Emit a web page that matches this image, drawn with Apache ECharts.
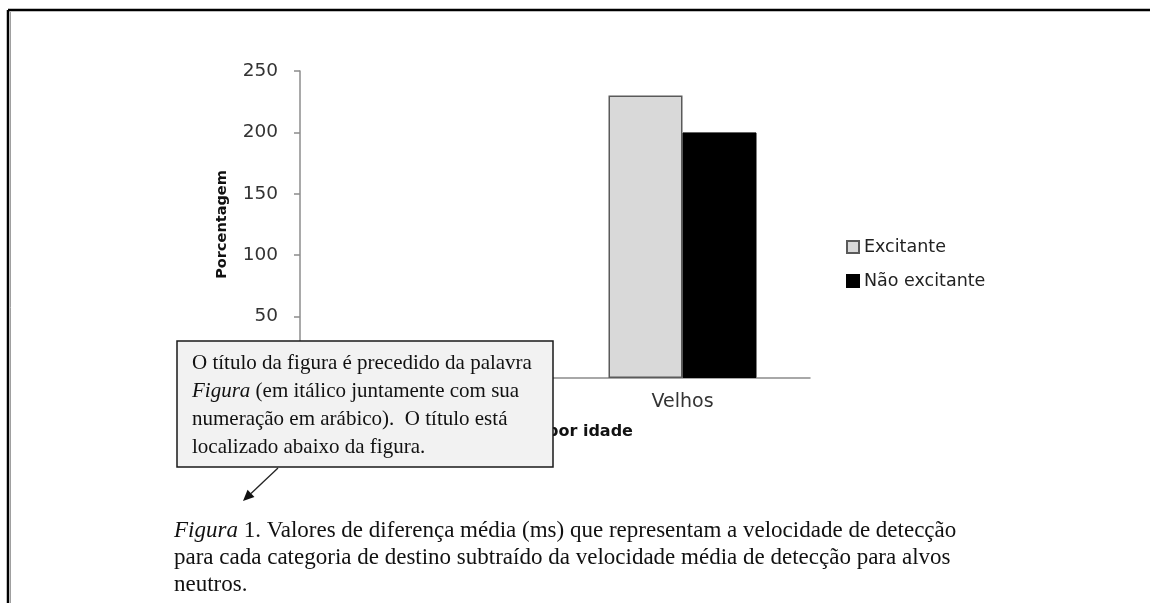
<!DOCTYPE html>
<html>
<head>
<meta charset="utf-8">
<script src="https://cdn.jsdelivr.net/npm/echarts@6/dist/echarts.min.js"></script>
<style>
html,body{margin:0;padding:0;background:#fff;}
#chart{width:1150px;height:603px;}
</style>
</head>
<body>
<div id="chart"></div>
<script>
// ---- data ----
const categories = ['Jovens', 'Velhos'];
const seriesNames = ['Excitante', 'Não excitante'];
const excitante = [20, 230];
const naoExcitante = [10, 200];
const yTicks = [0, 50, 100, 150, 200, 250];
const yAxisTitle = 'Porcentagem';
const xAxisTitle = 'Grupos por idade';
const calloutLines = [
  'O título da figura é precedido da palavra',
  '{i|Figura} (em itálico juntamente com sua',
  'numeração em arábico).  O título está',
  'localizado abaixo da figura.'
];
const captionLines = [
  '{i|Figura} 1. Valores de diferença média (ms) que representam a velocidade de detecção',
  'para cada categoria de destino subtraído da velocidade média de detecção para alvos',
  'neutros.'
];

const chart = echarts.init(document.getElementById('chart'), null, {renderer: 'canvas'});
const sans = 'DejaVu Sans';
const serif = 'Liberation Serif';

const option = {
  backgroundColor: '#ffffff',
  animation: false,
  grid: {left: 300, right: 340, top: 71, bottom: 225, containLabel: false},
  legend: {
    orient: 'vertical',
    left: 841,
    top: 232,
    itemWidth: 12,
    itemHeight: 12,
    itemGap: 14,
    icon: 'rect',
    data: seriesNames,
    textStyle: {fontFamily: sans, fontSize: 17.5, color: '#222', lineHeight: 20}
  },
  xAxis: {
    type: 'category',
    data: categories,
    name: xAxisTitle,
    nameLocation: 'middle',
    nameGap: 46,
    nameTextStyle: {fontFamily: sans, fontWeight: 'bold', fontSize: 16, color: '#111'},
    axisLine: {lineStyle: {color: '#8c8c8c', width: 1.5}},
    axisTick: {show: false},
    axisLabel: {fontFamily: sans, fontSize: 19, color: '#333', margin: 15}
  },
  yAxis: {
    type: 'value',
    min: yTicks[0],
    max: yTicks[yTicks.length - 1],
    interval: 50,
    name: yAxisTitle,
    nameLocation: 'middle',
    nameGap: 70,
    nameRotate: 90,
    nameTextStyle: {fontFamily: sans, fontWeight: 'bold', fontSize: 14.5, color: '#111'},
    axisLine: {show: true, lineStyle: {color: '#8c8c8c', width: 1.5}},
    axisTick: {show: true, length: 6, lineStyle: {color: '#8c8c8c', width: 1.5}},
    axisLabel: {fontFamily: sans, fontSize: 18.5, color: '#333', margin: 22},
    splitLine: {show: false}
  },
  series: [
    {
      name: seriesNames[0],
      type: 'bar',
      data: excitante,
      barWidth: 74,
      barGap: '0%',
      itemStyle: {color: '#d9d9d9', borderColor: '#5a5a5a', borderWidth: 1.5}
    },
    {
      name: seriesNames[1],
      type: 'bar',
      data: naoExcitante,
      barWidth: 74,
      barGap: '0%',
      itemStyle: {color: '#000000', borderColor: '#000000', borderWidth: 1}
    }
  ],
  graphic: []
};

const g = [];
// page frame (top + left border)
g.push({type: 'line', z: 100, shape: {x1: 8, y1: 10, x2: 1150, y2: 10}, style: {stroke: '#000', lineWidth: 2.5}});
g.push({type: 'line', z: 100, shape: {x1: 8, y1: 10, x2: 8, y2: 603}, style: {stroke: '#000', lineWidth: 2.5}});
g.push({type: 'line', z: 100, shape: {x1: 10.5, y1: 12, x2: 10.5, y2: 603}, style: {stroke: '#a0a0a0', lineWidth: 1}});

// callout box
g.push({type: 'rect', z: 100, shape: {x: 177, y: 341, width: 376, height: 126},
  style: {fill: '#f2f2f2', stroke: '#1a1a1a', lineWidth: 1.5}});
calloutLines.forEach(function (t, i) {
  g.push({type: 'text', z: 101, x: 192, y: 363 + i * 28,
    style: {text: t, fontFamily: serif, fontSize: 21, fill: '#111', verticalAlign: 'middle', align: 'left',
      rich: {i: {fontFamily: serif, fontSize: 21, fontStyle: 'italic', fill: '#111'}}}});
});
// arrow
const ax1 = 278, ay1 = 468, ax2 = 243, ay2 = 501;
const ang = Math.atan2(ay2 - ay1, ax2 - ax1);
const hl = 11, hw = 5;
const bx = ax2 - hl * Math.cos(ang), by = ay2 - hl * Math.sin(ang);
g.push({type: 'line', z: 100, shape: {x1: ax1, y1: ay1, x2: bx, y2: by}, style: {stroke: '#222', lineWidth: 1.3}});
g.push({type: 'polygon', z: 100, shape: {points: [
  [ax2, ay2],
  [bx + hw * Math.sin(ang), by - hw * Math.cos(ang)],
  [bx - hw * Math.sin(ang), by + hw * Math.cos(ang)]
]}, style: {fill: '#111'}});

// caption
captionLines.forEach(function (t, i) {
  g.push({type: 'text', z: 101, x: 174, y: 531 + i * 27,
    style: {text: t, fontFamily: serif, fontSize: 23, fill: '#111', verticalAlign: 'middle', align: 'left',
      rich: {i: {fontFamily: serif, fontSize: 23, fontStyle: 'italic', fill: '#111'}}}});
});
option.graphic = g;
chart.setOption(option);
</script>
</body>
</html>
